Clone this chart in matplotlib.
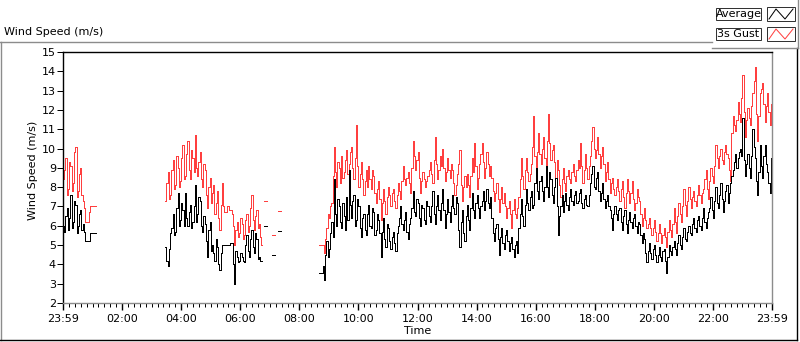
import numpy as np
import matplotlib
matplotlib.use('Agg')
import matplotlib.pyplot as plt
from matplotlib.lines import Line2D
from matplotlib.patches import Rectangle

# time step of the logged data (hours) -> 2.5 minutes
STEP = 2.5 / 60.0

# --- data (m/s) ---
# segment 1 : from 23:59
seg1_start = 0.0
avg_seg1 = [6.0, 5.7, 6.5, 6.9, 5.8, 6.4, 7.6, 5.9, 6.2, 7.3,
            7.1, 5.6, 6.0, 6.6, 6.8, 5.8, 6.1, 5.7, 5.2, 5.2,
            5.2, 5.2, 5.6, 5.6, 5.6, 5.6, 5.6]
gust_seg1 = [8.4, 8.9, 9.5, 7.6, 7.9, 9.3, 9.1, 7.8, 8.2, 9.8,
             10.1, 7.5, 7.8, 8.7, 9.0, 7.6, 7.3, 6.9, 6.2, 6.2,
             6.2, 6.7, 7.0, 7.0, 7.0, 7.0, 7.0]

# segment 2 : around 03:30 - 06:40
seg2_start = 3.46
avg_seg2 = [4.9, 4.2, 3.9, 4.8, 5.6, 5.9, 6.6, 5.5, 5.7, 6.9,
            7.7, 6.0, 6.3, 7.2, 6.8, 6.0, 7.7, 6.4, 6.0, 6.7,
            7.1, 5.9, 6.2, 7.0, 8.1, 6.2, 6.6, 7.5, 7.3, 6.0,
            5.7, 6.5, 6.1, 5.2, 4.4, 5.8, 6.2, 4.7, 5.0, 4.6,
            4.2, 5.3, 4.9, 4.0, 3.7, 4.6, 5.0, 5.0, 5.0, 5.0,
            5.0, 5.0, 5.0, 5.1, 5.1, 4.0, 3.0, 4.7, 4.4, 4.1,
            4.2, 4.6, 4.4, 4.2, 4.1, 5.0, 5.5, 4.7, 4.4, 5.3,
            5.8, 4.9, 4.6, 5.6, 5.3, 4.3, 4.4, 4.2, 4.2]
gust_seg2 = [7.3, 8.2, 8.8, 7.4, 7.6, 8.9, 9.4, 7.9, 8.1, 9.6,
             9.0, 8.0, 8.3, 9.5, 10.2, 8.4, 8.6, 9.7, 10.4, 8.9,
             8.4, 9.9, 9.5, 8.8, 10.7, 9.0, 8.6, 9.3, 9.8, 8.4,
             8.0, 9.2, 8.9, 7.6, 6.9, 8.0, 8.5, 7.2, 7.7, 8.1,
             6.6, 7.2, 7.8, 6.4, 5.8, 7.1, 8.2, 7.0, 6.7, 6.7,
             7.0, 7.0, 6.8, 6.8, 6.6, 6.0, 5.0, 5.8, 6.2, 5.4,
             5.6, 6.4, 6.1, 5.3, 5.5, 6.3, 6.6, 5.7, 6.0, 6.9,
             7.6, 6.3, 5.8, 6.5, 6.8, 5.9, 6.1, 5.4, 5.0]

# isolated short readings between 06:45 and 07:30
frag_starts = [6.80, 7.085, 7.27]
avg_frag = [6.0, 4.5, 5.75]
gust_frag = [7.3, 5.5, 6.75]

# segment 3 : from about 08:40 to 23:59
seg3_start = 24 - 368 * STEP
avg_seg3 = [3.55, 3.55, 3.55, 3.9, 3.2, 4.5, 5.2, 4.4, 4.8, 5.6, 6.2, 5.4, 8.4, 6.6, 6.0, 7.4, 7.0, 6.2, 5.9, 7.2,
            6.5, 5.8, 7.5, 6.3, 8.9, 7.1, 6.4, 7.3, 7.6, 6.0, 6.3, 7.4, 7.0, 5.9, 5.4, 6.4, 6.6, 5.8, 5.5, 6.6,
            7.1, 6.0, 5.9, 6.9, 6.7, 5.5, 5.8, 6.6, 6.3, 5.6, 4.4, 5.7, 6.4, 5.3, 4.9, 6.1, 5.9, 5.2, 4.8, 5.4,
            5.7, 5.1, 4.7, 5.6, 6.0, 6.4, 7.0, 6.1, 5.8, 6.3, 6.7, 5.7, 5.3, 6.1, 6.4, 6.9, 7.8, 6.7, 6.5, 7.4,
            7.2, 6.4, 6.0, 7.1, 6.9, 6.3, 6.1, 7.3, 7.0, 6.5, 6.2, 7.0, 7.8, 6.6, 6.1, 7.0, 7.6, 6.8, 6.3, 7.2,
            7.9, 6.8, 5.9, 6.6, 7.4, 6.7, 6.2, 7.0, 7.6, 6.9, 6.6, 7.5, 7.2, 5.8, 4.9, 6.2, 6.8, 5.6, 5.2, 6.5,
            7.1, 6.3, 5.8, 6.9, 7.7, 6.8, 6.4, 7.2, 7.6, 6.9, 6.4, 7.0, 7.3, 7.8, 6.8, 7.3, 7.9, 7.2, 6.9, 7.5,
            6.4, 5.6, 5.2, 5.9, 6.1, 5.3, 4.5, 5.4, 5.9, 5.1, 4.8, 5.5, 5.8, 5.2, 4.7, 5.1, 5.4, 4.8, 4.4, 5.0,
            5.2, 4.6, 5.9, 6.6, 7.4, 6.5, 6.0, 7.1, 7.9, 7.2, 6.8, 7.5, 7.8, 6.9, 7.1, 8.2, 9.0, 7.8, 7.4, 8.3,
            8.6, 7.8, 7.3, 8.0, 9.1, 8.0, 7.5, 8.8, 8.4, 7.6, 7.2, 8.0, 8.5, 7.0, 5.5, 6.5, 7.0, 7.6, 6.7, 7.3,
            7.7, 7.1, 6.8, 7.5, 7.9, 7.3, 7.1, 7.6, 7.8, 7.2, 7.3, 7.7, 7.9, 7.2, 6.9, 7.4, 7.6, 7.1, 7.0, 7.6,
            8.2, 8.7, 9.1, 8.0, 7.9, 8.5, 8.8, 7.8, 7.3, 7.7, 8.2, 7.4, 6.9, 7.3, 7.6, 7.0, 6.8, 6.4, 5.8, 6.6,
            7.0, 6.6, 6.3, 6.8, 6.9, 6.2, 5.8, 6.5, 6.8, 6.1, 5.6, 6.3, 6.7, 6.2, 5.9, 6.4, 6.6, 6.0, 5.6, 6.2,
            6.1, 5.5, 5.1, 5.6, 5.3, 4.6, 4.1, 4.7, 5.1, 4.6, 4.3, 4.8, 5.0, 4.5, 4.1, 4.5, 4.9, 4.4, 4.2, 4.7,
            4.8, 4.2, 3.55, 4.4, 5.0, 4.7, 4.5, 4.9, 5.2, 4.8, 4.5, 5.1, 5.5, 5.0, 4.8, 5.4, 5.9, 5.3, 5.2, 5.7,
            6.0, 5.6, 5.5, 6.1, 6.4, 5.9, 5.7, 6.3, 6.5, 6.0, 5.8, 6.4, 6.9, 6.2, 5.9, 6.4, 6.7, 6.9, 7.5, 6.8,
            6.4, 7.3, 8.0, 7.2, 6.9, 7.6, 8.2, 7.4, 6.7, 7.3, 7.8, 8.1, 7.2, 7.7, 8.2, 8.6, 8.9, 9.3, 9.7, 9.0,
            9.5, 9.8, 10.0, 9.6, 11.6, 9.4, 8.6, 9.2, 9.7, 9.0, 8.5, 9.6, 11.0, 10.1, 9.5, 8.3, 7.6, 8.8, 10.2, 9.1,
            8.5, 9.6, 10.2, 9.2, 8.8, 8.2, 7.7, 9.5, 10.4]
gust_seg3 = [5.0, 5.0, 5.0, 5.0, 4.6, 5.3, 5.9, 6.6, 6.4, 7.0, 7.2, 8.6, 10.1, 8.8, 8.0, 9.3, 9.0, 8.2, 9.6, 8.5,
             8.8, 9.4, 9.9, 8.7, 9.2, 9.8, 10.1, 9.0, 8.4, 9.5, 11.2, 9.1, 8.0, 8.7, 9.3, 8.4, 7.6, 8.3, 8.9, 8.0,
             9.1, 8.4, 7.9, 8.9, 8.6, 7.7, 7.2, 7.9, 8.3, 7.4, 6.3, 7.2, 7.9, 7.3, 6.6, 7.5, 8.0, 7.6, 7.0, 7.7,
             7.9, 7.3, 6.9, 7.6, 8.2, 7.8, 7.4, 8.3, 9.1, 8.4, 8.1, 8.5, 8.8, 8.2, 7.7, 9.0, 10.4, 9.6, 8.9, 9.4,
             9.8, 8.5, 7.7, 8.3, 8.8, 8.4, 8.0, 8.3, 8.6, 8.9, 9.3, 8.7, 8.2, 9.4, 10.6, 9.2, 8.4, 8.9, 9.6, 9.1,
             10.0, 9.0, 8.3, 8.8, 9.5, 8.9, 8.5, 9.2, 8.9, 8.2, 7.6, 8.1, 8.7, 9.2, 9.9, 8.1, 7.3, 8.0, 8.6, 8.0,
             8.7, 8.1, 7.5, 8.6, 9.5, 8.8, 10.3, 9.1, 7.9, 8.5, 9.2, 9.7, 10.3, 9.3, 8.5, 9.0, 9.8, 9.2, 8.6, 9.1,
             8.5, 7.8, 7.3, 7.7, 8.2, 7.4, 6.7, 7.4, 8.0, 7.2, 7.7, 7.0, 6.4, 6.9, 7.3, 6.6, 5.9, 6.8, 7.4, 6.6,
             6.4, 6.9, 7.5, 8.4, 9.5, 8.6, 7.9, 8.9, 9.5, 8.8, 8.3, 8.7, 9.2, 10.1, 11.7, 9.6, 9.0, 9.8, 10.8, 9.7,
             9.2, 10.0, 10.6, 9.5, 9.0, 10.4, 11.8, 10.3, 9.4, 9.9, 10.2, 9.3, 8.5, 9.4, 8.9, 8.1, 7.5, 8.4, 9.0, 8.2,
             7.8, 8.6, 8.9, 8.4, 8.2, 8.8, 9.2, 8.6, 8.3, 8.9, 9.4, 9.0, 10.3, 9.1, 8.2, 8.9, 9.7, 9.0, 8.4, 9.1,
             9.6, 10.4, 11.1, 10.0, 9.5, 9.9, 10.6, 9.7, 9.0, 9.6, 10.1, 9.2, 8.3, 8.8, 9.3, 8.4, 7.7, 8.2, 8.5, 7.9,
             7.6, 8.0, 8.4, 7.8, 7.3, 7.9, 8.3, 7.5, 6.9, 7.7, 8.4, 7.8, 7.2, 7.7, 8.3, 7.4, 6.8, 7.2, 7.9, 7.5,
             7.3, 6.6, 6.0, 6.4, 6.9, 6.3, 5.9, 6.1, 6.4, 5.9, 5.5, 5.9, 6.3, 5.7, 5.2, 5.6, 6.1, 5.6, 5.1, 5.5,
             5.9, 5.4, 4.9, 5.7, 6.3, 5.8, 5.4, 6.1, 6.9, 6.2, 5.6, 6.5, 7.2, 6.6, 6.2, 7.0, 7.9, 7.1, 6.5, 7.3,
             8.0, 7.4, 6.9, 7.5, 7.8, 7.3, 7.0, 7.6, 8.1, 7.6, 7.2, 7.7, 7.9, 8.4, 8.9, 7.9, 7.4, 8.3, 9.0, 8.6,
             8.2, 9.1, 10.2, 9.5, 9.0, 9.6, 10.0, 9.4, 9.2, 9.8, 10.2, 9.7, 9.5, 8.9, 8.3, 10.8, 11.7, 11.2, 10.9, 11.5,
             12.4, 11.8, 11.4, 12.6, 13.8, 11.9, 10.6, 11.5, 12.1, 11.6, 11.2, 12.2, 12.9, 13.5, 14.2, 11.8, 10.4, 11.7, 12.9, 13.1,
             13.4, 12.3, 11.4, 12.2, 12.9, 11.9, 11.2, 12.3, 12.9]

tick_hours = list(range(0, 25, 2))
tick_labels = ['23:59', '02:00', '04:00', '06:00', '08:00', '10:00', '12:00',
               '14:00', '16:00', '18:00', '20:00', '22:00', '23:59']


def build(segments):
    # join segments into one series, NaN breaks the line between them
    t_all, v_all = [], []
    for start, vals in segments:
        t = start + np.arange(len(vals)) * STEP
        t_all.extend(t)
        v_all.extend(vals)
        t_all.append(t[-1] + STEP / 2)
        v_all.append(np.nan)
    return np.array(t_all), np.array(v_all)


avg_segments = [(seg1_start, avg_seg1), (seg2_start, avg_seg2)]
gust_segments = [(seg1_start, gust_seg1), (seg2_start, gust_seg2)]
for s, a, g in zip(frag_starts, avg_frag, gust_frag):
    avg_segments.append((s, [a] * 3))
    gust_segments.append((s, [g] * 3))
avg_segments.append((seg3_start, avg_seg3))
gust_segments.append((seg3_start, gust_seg3))

t_avg, v_avg = build(avg_segments)
t_gust, v_gust = build(gust_segments)

W, H = 800, 342
RED = '#ff3f3f'
GRAY = '#8c8c8c'
LW = 0.72  # one pixel at 100 dpi


def fx(x):
    return x / W


def fy(y):
    return 1 - y / H


fig = plt.figure(figsize=(8, 3.42), dpi=100, facecolor='white')
ax = fig.add_axes([fx(63), fy(303), (772 - 63) / W, (303 - 52) / H])

ax.plot(t_gust, v_gust, color=RED, linewidth=LW, drawstyle='steps-post', antialiased=False)
ax.plot(t_avg, v_avg, color='black', linewidth=LW, drawstyle='steps-post', antialiased=False)

ax.set_xlim(0, 24)
ax.set_ylim(2, 15)
ax.set_yticks(range(2, 16))
ax.set_xticks(tick_hours)
ax.set_xticklabels(tick_labels)
ax.set_xticks(np.arange(0, 24.001, 0.2), minor=True)

for side in ['left', 'top']:
    ax.spines[side].set_color('black')
    ax.spines[side].set_linewidth(LW * 1.4)
for side in ['right', 'bottom']:
    ax.spines[side].set_color(GRAY)
    ax.spines[side].set_linewidth(LW * 1.4)

ax.tick_params(axis='y', direction='out', length=4, width=LW, labelsize=8, pad=1)
ax.tick_params(axis='x', which='major', direction='out', length=5, width=LW * 1.4,
               labelsize=8, pad=3)
ax.tick_params(axis='x', which='minor', direction='out', length=3, width=LW)
ax.set_xlabel('Time', fontsize=8, labelpad=1)

fig.text(fx(33), fy(170), 'Wind Speed (m/s)', rotation=90, ha='center',
         va='center', fontsize=8)
fig.text(fx(4), fy(32), 'Wind Speed (m/s)', ha='left', va='center', fontsize=8)

# outer panel frame
frame = [((0, 712), (42, 42), GRAY), ((1, 1), (42, 340), GRAY),
         ((0, 797), (340, 340), 'black'), ((797, 797), (48, 340), 'black'),
         ((712, 798), (48, 48), GRAY), ((798, 798), (0, 48), GRAY)]
for xs, ys, c in frame:
    fig.add_artist(Line2D([fx(xs[0]), fx(xs[1])], [fy(ys[0]), fy(ys[1])],
                          color=c, linewidth=1, transform=fig.transFigure))

# legend boxes
for row, (name, col) in enumerate([('Average', 'black'), ('3s Gust', RED)]):
    dy = row * 20
    fig.add_artist(Rectangle((fx(716), fy(20 + dy)), 45 / W, 12 / H,
                             transform=fig.transFigure, facecolor='white',
                             edgecolor='#333333', linewidth=LW))
    fig.text(fx(738.5), fy(14 + dy), name, ha='center', va='center', fontsize=8)
    fig.add_artist(Rectangle((fx(767), fy(21 + dy)), 28 / W, 14 / H,
                             transform=fig.transFigure, facecolor='white',
                             edgecolor='#333333', linewidth=LW))
    fig.add_artist(Line2D([fx(769), fx(776), fx(785), fx(793)],
                          [fy(19 + dy), fy(9 + dy), fy(19 + dy), fy(9 + dy)],
                          color=col, linewidth=LW, transform=fig.transFigure))

fig.savefig('out.png', dpi=100, facecolor='white')
